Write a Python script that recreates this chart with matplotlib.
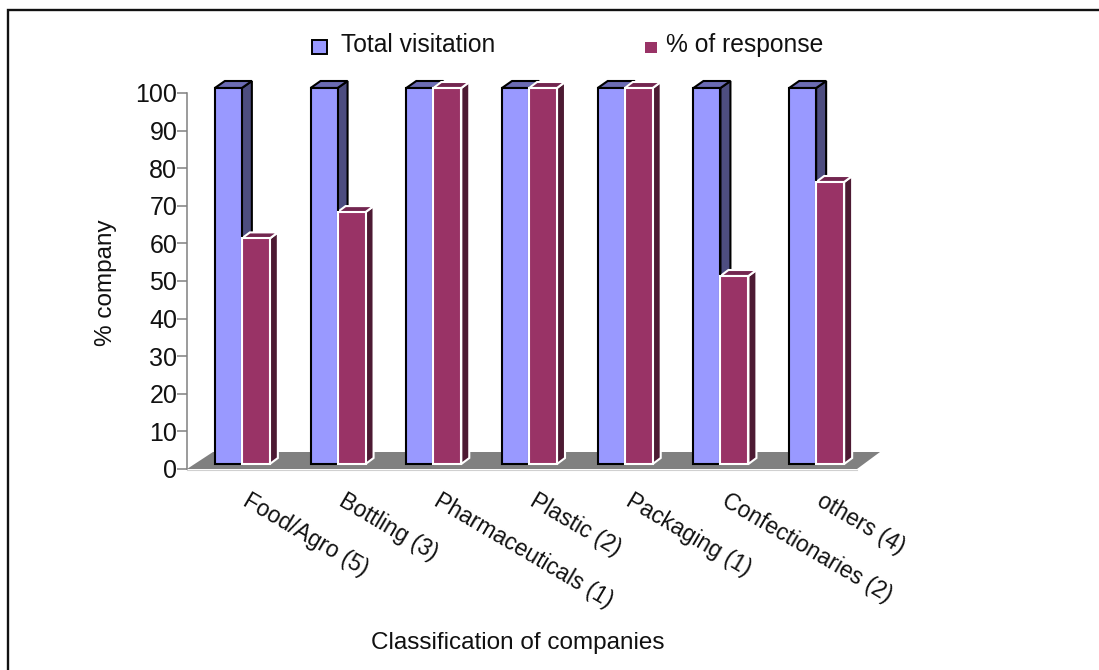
import matplotlib
matplotlib.use('Agg')
import matplotlib.pyplot as plt
from matplotlib.patches import Polygon, Rectangle

plt.rcParams['font.family'] = ['Liberation Sans', 'DejaVu Sans']

categories = ['Food/Agro (5)', 'Bottling (3)', 'Pharmaceuticals (1)', 'Plastic (2)',
              'Packaging (1)', 'Confectionaries (2)', 'others (4)']
total_visitation = [100, 100, 100, 100, 100, 100, 100]
pct_response = [60, 67, 100, 100, 100, 50, 75]
yticks = [0, 10, 20, 30, 40, 50, 60, 70, 80, 90, 100]

W, H = 1099, 670
fig = plt.figure(figsize=(W/100, H/100), dpi=100)
fig.patch.set_facecolor('white')

# outer frame: only left and top lines show
frame_x = [8/W, 8/W, 1]
frame_y = [0, 1-10/H, 1-10/H]
fig.add_artist(plt.Line2D(frame_x, frame_y, color='#111111', lw=1.7, transform=fig.transFigure,
                          solid_joinstyle='miter'))

# plot area in pixels: x 187..857, y 469..93
ax = fig.add_axes([187/W, 1-469/H, (857-187)/W, (469-93)/H])
ax.set_xlim(0, 7)
ax.set_ylim(0, 100)
ax.patch.set_visible(False)

px = 7/(857-187)       # one pixel in x data units
py = 100/(469-93)      # one pixel in y data units

ax.spines['top'].set_visible(False)
ax.spines['right'].set_visible(False)
ax.spines['left'].set_color('#808080')
ax.spines['left'].set_linewidth(1.1)
ax.spines['bottom'].set_visible(False)
ax.set_yticks(yticks)
ax.tick_params(axis='y', length=7, width=1.1, color='#808080', labelsize=18, pad=0, labelcolor='#111111')
ax.set_xticks([])

# floor
floor = Polygon([(0, 0), (7, 0), (7+23*px, 17*py), (26*px, 17*py)], closed=True,
                facecolor='#808080', edgecolor='none', clip_on=False, zorder=1)
ax.add_patch(floor)
ax.plot([0, 7], [-0.3, -0.3], color='#d0d0d0', lw=0.8, clip_on=False, zorder=1)


def bar3d(x0, x1, val, face, side, top, edge, dx, dy):
    base = 5*py
    y1 = base + val
    ddx = dx*px
    ddy = dy*py
    ax.add_patch(Polygon([(x1, base), (x1+ddx, base+ddy), (x1+ddx, y1+ddy), (x1, y1)], closed=True,
                         facecolor=side, edgecolor=edge, lw=1.5, clip_on=False, zorder=2, joinstyle='miter'))
    ax.add_patch(Polygon([(x0, y1), (x1, y1), (x1+ddx, y1+ddy), (x0+ddx, y1+ddy)], closed=True,
                         facecolor=top, edgecolor=edge, lw=1.5, clip_on=False, zorder=2, joinstyle='miter'))
    ax.add_patch(Rectangle((x0, base), x1-x0, y1-base, facecolor=face, edgecolor=edge, lw=1.5,
                           clip_on=False, zorder=3, joinstyle='miter'))


bw_blue = 27*px
bw_red = 28*px
shift = 7*px
for i, a in enumerate(total_visitation):
    c = i + 0.5 + shift
    bar3d(c-bw_blue, c, a, '#9999ff', '#4d4d80', '#6b6bb3', 'black', 10, 7)
for i, b in enumerate(pct_response):
    c = i + 0.5 + shift
    bar3d(c, c+bw_red, b, '#993366', '#4d1a33', '#732650', 'white', 8, 6)

# slanted category labels
for i, name in enumerate(categories):
    ax.annotate(name, xy=(i+0.5, 0), xytext=(10, -30), textcoords='offset pixels',
                rotation=-30.5, rotation_mode='anchor', ha='left', va='center',
                fontsize=16.5, color='#111111', annotation_clip=False)

fig.text(106/W, 1-283/H, '% company', fontsize=17.5, rotation=90, ha='center', va='center', color='#111111')
fig.text(518/W, 1-643/H, 'Classification of companies', fontsize=17.5, ha='center', va='center', color='#111111')

# legend
fig.add_artist(Rectangle((312/W, 1-54/H), 15/W, 14/H, facecolor='#9999ff', edgecolor='black', lw=1.4,
                         transform=fig.transFigure))
fig.add_artist(Rectangle((645/W, 1-53/H), 12/W, 11/H, facecolor='#993366', edgecolor='none',
                         transform=fig.transFigure))
fig.text(341/W, 1-45/H, 'Total visitation', fontsize=17.7, ha='left', va='center', color='#111111')
fig.text(666/W, 1-45/H, '% of response', fontsize=17.7, ha='left', va='center', color='#111111')

fig.savefig('out.png', dpi=100)
